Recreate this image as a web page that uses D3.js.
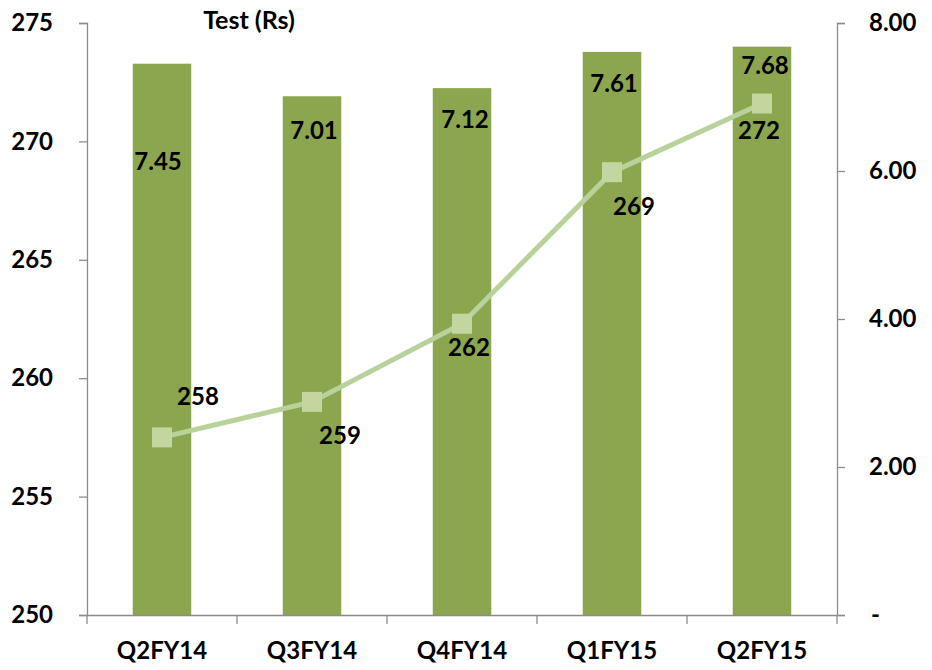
<!DOCTYPE html>
<html>
<head>
<meta charset="utf-8">
<script src="https://d3js.org/d3.v7.min.js"></script>
<style>
  body { margin: 0; background: #fff; }
  text { font-family: Lato, "Open Sans", sans-serif; fill: #000; }
</style>
</head>
<body>
<svg id="chart" width="932" height="670"></svg>
<script>
// chart data
var categories = ["Q2FY14", "Q3FY14", "Q4FY14", "Q1FY15", "Q2FY15"];
var barValues = [7.45, 7.01, 7.12, 7.61, 7.68];       // right axis
var lineValues = [257.5, 259.0, 262.3, 268.7, 271.6]; // left axis
var leftTicks = [250, 255, 260, 265, 270, 275];
var rightTicks = [0, 2, 4, 6, 8];
var title = "Test (Rs)";

// layout
var x0 = 87, x1 = 837, yTop = 23, yBot = 615;
var svg = d3.select("#chart");

var x = d3.scaleBand().domain(categories).range([x0, x1]);
var yLeft = d3.scaleLinear().domain([250, 275]).range([yBot, yTop]);
var yRight = d3.scaleLinear().domain([0, 8]).range([yBot, yTop]);
var barW = x.bandwidth() * 0.39;

// bars
svg.selectAll("rect.bar")
    .data(barValues)
    .enter()
    .append("rect")
    .attr("class", "bar")
    .attr("x", function(d, i) { return x(categories[i]) + (x.bandwidth() - barW) / 2; })
    .attr("y", function(d) { return yRight(d); })
    .attr("width", barW)
    .attr("height", function(d) { return yBot - yRight(d); })
    .attr("fill", "#8ba64e");

// axes
var axisColor = "#8c8c8c";
var gl = svg.append("g")
    .attr("transform", "translate(" + x0 + ",0)")
    .call(d3.axisLeft(yLeft).tickValues(leftTicks).tickSize(8).tickPadding(26));
var gr = svg.append("g")
    .attr("transform", "translate(" + x1 + ",0)")
    .call(d3.axisRight(yRight).tickValues(rightTicks).tickSize(8).tickPadding(24)
        .tickFormat(function(d) { return d === 0 ? "-" : d3.format(".2f")(d); }));
var gx = svg.append("g")
    .attr("transform", "translate(0," + yBot + ")")
    .call(d3.axisBottom(x).tickSize(0).tickPadding(27));

[gl, gr, gx].forEach(function(g) {
    g.select(".domain").attr("stroke", axisColor).attr("stroke-width", 1.3);
    g.selectAll(".tick line").attr("stroke", axisColor).attr("stroke-width", 1.3);
    g.selectAll("text").style("font-family", "Lato, sans-serif")
        .style("font-size", "24px").style("font-weight", "bold").attr("fill", "#000");
});
gr.selectAll(".tick text").filter(function(d) { return d === 0; }).attr("dx", 2);

// category separators on the x axis
svg.append("g").selectAll("line")
    .data(categories.concat([null]))
    .enter()
    .append("line")
    .attr("x1", function(d, i) { return x0 + i * x.step(); })
    .attr("x2", function(d, i) { return x0 + i * x.step(); })
    .attr("y1", yBot)
    .attr("y2", yBot + 9)
    .attr("stroke", axisColor)
    .attr("stroke-width", 1.3);

// line series
var line = d3.line()
    .x(function(d, i) { return x(categories[i]) + x.bandwidth() / 2; })
    .y(function(d) { return yLeft(d); });
svg.append("path")
    .datum(lineValues)
    .attr("d", line)
    .attr("fill", "none")
    .attr("stroke", "#b9d19a")
    .attr("stroke-width", 5);
var ms = 20;
svg.selectAll("rect.marker")
    .data(lineValues)
    .enter()
    .append("rect")
    .attr("class", "marker")
    .attr("x", function(d, i) { return x(categories[i]) + x.bandwidth() / 2 - ms / 2; })
    .attr("y", function(d) { return yLeft(d) - ms / 2; })
    .attr("width", ms)
    .attr("height", ms)
    .attr("fill", "#c3d6a0");

// data labels (offsets from the mark, as placed in the original)
var barLabelDx = [-4, 2, 3, 2, 3];
var barLabelDy = [98, 34, 31, 32, 19];
svg.selectAll("text.barlabel")
    .data(barValues)
    .enter()
    .append("text")
    .attr("class", "barlabel")
    .attr("x", function(d, i) { return x(categories[i]) + x.bandwidth() / 2 + barLabelDx[i]; })
    .attr("y", function(d, i) { return yRight(d) + barLabelDy[i]; })
    .attr("text-anchor", "middle")
    .attr("dy", "0.35em")
    .style("font-size", "24px")
    .style("font-weight", "bold")
    .text(function(d) { return d3.format(".2f")(d); });

var lineLabelDx = [36, 28, 7, 22, -3];
var lineLabelDy = [-41, 34, 24, 34, 27];
svg.selectAll("text.linelabel")
    .data(lineValues)
    .enter()
    .append("text")
    .attr("class", "linelabel")
    .attr("x", function(d, i) { return x(categories[i]) + x.bandwidth() / 2 + lineLabelDx[i]; })
    .attr("y", function(d, i) { return yLeft(d) + lineLabelDy[i]; })
    .attr("text-anchor", "middle")
    .attr("dy", "0.35em")
    .style("font-size", "24px")
    .style("font-weight", "bold")
    .text(function(d) { return d3.format(".0f")(d); });

// title
svg.append("text")
    .attr("x", 249)
    .attr("y", 29)
    .attr("text-anchor", "middle")
    .style("font-size", "25px")
    .style("font-weight", "bold")
    .text(title);
</script>
</body>
</html>
